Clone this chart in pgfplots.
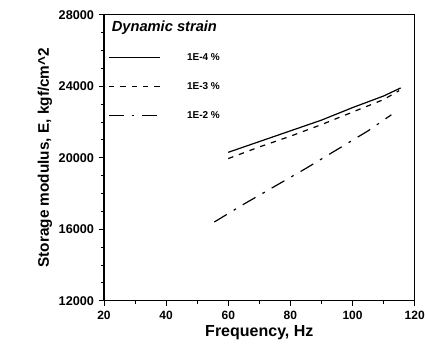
\documentclass[border=0pt]{standalone}
\usepackage{pgfplots}
\pgfplotsset{compat=1.18}
\usepackage{fontspec}
\setmainfont{Liberation Sans}
\begin{document}
\begin{tikzpicture}
\begin{axis}[
  scale only axis,
  width=233pt, height=214.5pt,
  xmin=20, xmax=120, ymin=12000, ymax=28000,
  scaled ticks=false,
  xtick={20,40,...,120}, ytick={12000,16000,...,28000},
  minor x tick num=1, minor y tick num=3,
  tick align=outside,
  xtick pos=bottom, ytick pos=left,
  major tick length=4pt, minor tick length=2.5pt,
  tick style={black, line width=0.6pt},
  axis line style={line width=0.8pt},
  /pgf/number format/assume math mode=true,
  /pgf/number format/1000 sep={},
  xticklabel style={font=\fontsize{9}{10}\selectfont\bfseries},
  yticklabel style={font=\fontsize{9.5}{10}\selectfont\bfseries},
  xlabel={Frequency, Hz},
  ylabel={Storage modulus, E, kgf/cm\^{}2},
  xlabel style={font=\fontsize{12}{13}\selectfont\bfseries, yshift=2pt},
  ylabel style={font=\fontsize{11.5}{13}\selectfont\bfseries, yshift=-2pt},
  legend style={draw=none, fill=none, at={(rel axis cs:0.005,0.885)}, anchor=north west,
    font=\fontsize{7.5}{8}\selectfont\bfseries, row sep=11pt, inner xsep=2pt},
  legend cell align=left,
  legend image code/.code={\draw[#1] (0pt,0pt) -- (38pt,0pt);},
]
\coordinate (sw) at (rel axis cs:0,0);
\coordinate (ne) at (rel axis cs:1,1);
\node[anchor=west, font=\fontsize{11}{12}\selectfont\bfseries\itshape] at (rel axis cs:0.01,0.955) {Dynamic strain};
\addplot[black, line width=0.9pt] coordinates {(60,20300) (70,20900) (80,21500) (90,22100) (100,22800) (110,23450) (115.5,23900)};
\addlegendentry{\hspace*{18pt}1E-4 \%}
\addplot[black, line width=0.9pt, dash pattern=on 4pt off 4.5pt] coordinates {(60,19950) (70,20600) (80,21200) (90,21850) (100,22550) (110,23250) (115,23750)};
\addlegendentry{\hspace*{18pt}1E-3 \%}
\addplot[black, line width=0.9pt, dash pattern=on 11pt off 6pt on 2pt off 6pt] coordinates {(55.5,16400) (65,17400) (75,18400) (85,19400) (95,20450) (105,21500) (112.5,22400)};
\addlegendentry{\hspace*{18pt}1E-2 \%}
\end{axis}
\pgfresetboundingbox
\path[use as bounding box] ([xshift=-78pt,yshift=-40pt]sw) rectangle ([xshift=7.75pt,yshift=11pt]ne);
\end{tikzpicture}
\end{document}
